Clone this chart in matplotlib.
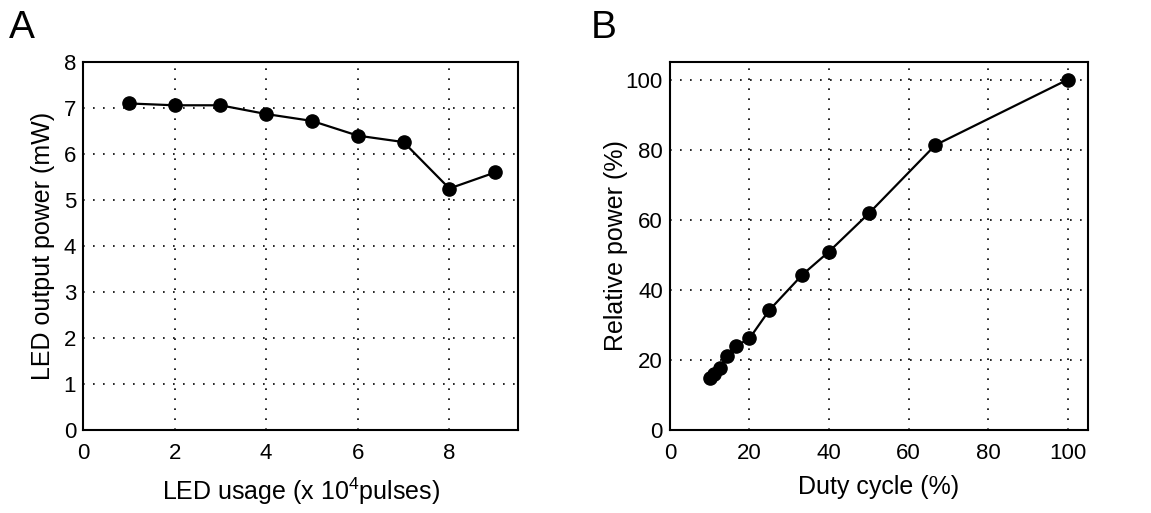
import numpy as np
import matplotlib.pyplot as plt

plt.rcParams['font.family'] = ['Liberation Sans', 'DejaVu Sans']
plt.rcParams['mathtext.fontset'] = 'custom'
plt.rcParams['mathtext.rm'] = 'Liberation Sans'
plt.rcParams['mathtext.default'] = 'regular'

# Panel A: LED output power vs usage
usage = [1, 2, 3, 4, 5, 6, 7, 8, 9]
power_mw = [7.10, 7.06, 7.06, 6.87, 6.72, 6.40, 6.26, 5.25, 5.60]

# Panel B: relative power vs duty cycle
duty = [10, 11.1, 12.5, 14.3, 16.7, 20, 25, 33.3, 40, 50, 66.7, 100]
rel_power = [14.7, 16.0, 17.6, 21.2, 24.0, 26.1, 34.2, 44.3, 50.9, 61.8, 81.3, 100]

fig = plt.figure(figsize=(11.51, 5.13), dpi=100)
axA = fig.add_axes([0.0721, 0.162, 0.378, 0.717])
axB = fig.add_axes([0.582, 0.162, 0.363, 0.717])


def style(ax):
    ax.grid(True, color='black', linestyle=(0, (1, 5)), linewidth=1.2)
    for s in ax.spines.values():
        s.set_linewidth(1.5)
    ax.tick_params(direction='in', length=0, labelsize=16)
    ax.tick_params(axis='x', pad=9.5)
    ax.tick_params(axis='y', pad=5)


axA.plot(usage, power_mw, color='black', lw=1.6, marker='o', ms=9.5)
axA.set_xlim(0, 9.5)
axA.set_ylim(0, 8)
axA.set_xticks([0, 2, 4, 6, 8])
axA.set_yticks(range(0, 9))
axA.set_xlabel('LED usage (x 10$^{4}$pulses)', fontsize=18, labelpad=8)
axA.set_ylabel('LED output power (mW)', fontsize=18, labelpad=6)
style(axA)

axB.plot(duty, rel_power, color='black', lw=1.6, marker='o', ms=9.5)
axB.set_xlim(0, 105)
axB.set_ylim(0, 105)
axB.set_xticks(range(0, 101, 20))
axB.set_yticks(range(0, 101, 20))
axB.set_xlabel('Duty cycle (%)', fontsize=18, labelpad=8)
axB.set_ylabel('Relative power (%)', fontsize=18, labelpad=-2)
style(axB)

fig.text(0.008, 0.925, 'A', fontsize=28)
fig.text(0.513, 0.925, 'B', fontsize=28)

fig.savefig('out.png', dpi=100)
